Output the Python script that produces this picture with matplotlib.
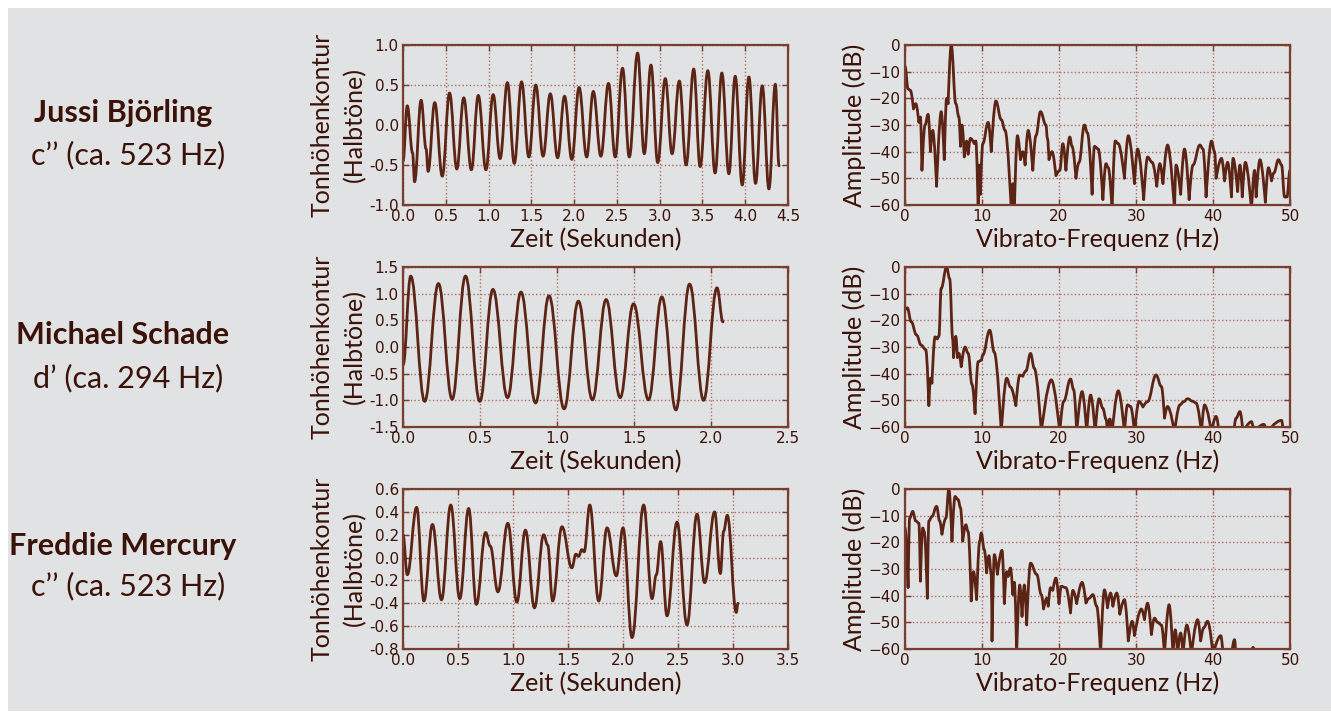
import matplotlib
matplotlib.use('Agg')
import matplotlib.pyplot as plt
from matplotlib.path import Path
from matplotlib.patches import PathPatch, Rectangle
from matplotlib.ticker import FormatStrFormatter

# colours
BG = '#e1e2e4'
LINE = '#5c2414'
SPINE = '#7a3e2e'
GRID = '#a8705f'
TEXT = '#3a1208'

# --- pitch contours: extrema (time in s, semitones) ---
bjoerling_t = [0.00, 0.050, 0.112, 0.135, 0.212, 0.270, 0.293, 0.371, 0.459, 0.544, 0.629, 0.710,
               0.799, 0.880, 0.969, 1.054, 1.135, 1.220, 1.301, 1.386, 1.471, 1.552, 1.637, 1.722,
               1.807, 1.888, 1.973, 2.058, 2.147, 2.224, 2.313, 2.402, 2.480, 2.566, 2.645, 2.742,
               2.820, 2.898, 2.977, 3.066, 3.145, 3.230, 3.309, 3.398, 3.473, 3.563, 3.648, 3.727,
               3.809, 3.883, 3.965, 4.043, 4.121, 4.199, 4.277, 4.352, 4.395]
bjoerling_v = [-0.45, 0.24, -0.35, -0.71, 0.31, -0.30, -0.58, 0.28, -0.64, 0.40, -0.55, 0.34,
               -0.56, 0.37, -0.56, 0.38, -0.42, 0.53, -0.48, 0.54, -0.40, 0.50, -0.39, 0.39,
               -0.41, 0.36, -0.43, 0.47, -0.40, 0.42, -0.39, 0.52, -0.40, 0.71, -0.40, 0.90,
               -0.36, 0.75, -0.47, 0.58, -0.36, 0.55, -0.50, 0.70, -0.52, 0.68, -0.60, 0.65,
               -0.61, 0.61, -0.75, 0.60, -0.73, 0.49, -0.80, 0.51, -0.51]

schade_t = [0.00, 0.050, 0.141, 0.230, 0.319, 0.406, 0.499, 0.584, 0.679, 0.766, 0.861, 0.948,
            1.046, 1.139, 1.230, 1.319, 1.410, 1.497, 1.594, 1.681, 1.772, 1.861, 1.952, 2.039, 2.078]
schade_v = [-0.34, 1.33, -1.02, 1.19, -0.98, 1.33, -1.02, 1.08, -0.95, 1.03, -1.05, 0.96,
            -1.16, 0.86, -0.99, 0.89, -0.95, 0.81, -0.99, 0.94, -1.18, 1.18, -1.00, 1.11, 0.47]

mercury_t = [0.00, 0.039, 0.124, 0.190, 0.268, 0.350, 0.434, 0.516, 0.597, 0.667, 0.751, 0.793,
             0.863, 0.953, 1.035, 1.113, 1.195, 1.279, 1.315, 1.360, 1.445, 1.535, 1.572, 1.596,
             1.626, 1.647, 1.698, 1.779, 1.855, 1.939, 2.000, 2.082, 2.188, 2.264, 2.303, 2.342,
             2.400, 2.491, 2.582, 2.673, 2.742, 2.833, 2.885, 2.915, 2.948, 3.030, 3.045]
mercury_v = [0.20, -0.15, 0.44, -0.38, 0.29, -0.37, 0.46, -0.36, 0.43, -0.41, 0.22, 0.10,
             -0.30, 0.30, -0.39, 0.24, -0.44, 0.20, 0.11, -0.38, 0.27, -0.09, 0.03, 0.01,
             0.07, 0.05, 0.46, -0.38, 0.26, -0.16, 0.26, -0.70, 0.46, -0.36, -0.15, 0.14,
             -0.51, 0.31, -0.59, 0.38, -0.22, 0.40, -0.14, 0.23, 0.37, -0.48, -0.40]

# --- vibrato spectra: extrema (Hz, dB) ---
bjoerling_f = [0.0, 0.4, 0.7, 1.1, 1.4, 1.8, 2.0, 2.2, 2.6, 3.0, 3.3, 3.6, 4.1, 4.7, 5.1, 5.4, 5.6,
               6.0, 6.6, 7.0, 7.2, 7.4, 7.7, 8.0, 8.2, 8.5, 9.0, 9.2, 9.5, 9.7, 9.8, 10.1, 10.8,
               11.2, 11.8, 12.5, 13.0, 13.8, 14.0, 14.2, 14.6, 15.0, 15.3, 15.6, 16.0, 16.6, 17.0,
               17.6, 18.3, 18.5, 18.7, 19.1, 19.6, 20.1, 20.5, 20.9, 21.4, 21.7, 22.2, 22.6, 23.3,
               23.7, 24.3, 24.6, 25.1, 25.7, 26.1, 26.4, 26.9, 27.3, 27.7, 28.5, 29.0, 29.8, 30.2,
               31.0, 31.5, 32.1, 32.7, 33.1, 33.5, 34.1, 35.0, 35.2, 35.8, 36.3, 36.9, 37.4, 38.3,
               38.7, 39.1, 39.8, 40.2, 40.4, 41.1, 41.5, 41.9, 42.4, 42.6, 43.2, 43.5, 43.8, 44.2,
               45.0, 45.4, 45.6, 46.1, 46.8, 47.2, 47.6, 47.9, 48.5, 48.9, 49.3, 49.6, 50.0]
bjoerling_db = [-8, -16.5, -17, -24, -22, -29, -27, -47, -30, -26, -40, -32, -53, -25, -43, -20, -22,
                0, -22, -27, -38, -30, -42, -36, -41, -35, -37, -36, -62, -45, -56, -37, -29,
                -40, -21, -28, -32, -62, -52, -62, -34, -43, -40, -45, -32, -47, -34,
                -25, -30, -35, -43, -40, -49, -47, -37, -47, -34.5, -38, -50, -44, -30,
                -33, -56, -38, -39, -58, -44.5, -46, -62, -36, -37, -50, -34, -52, -39,
                -58, -42, -44, -53, -44.5, -52, -37.5, -62, -45, -56, -39, -58, -45, -37.5,
                -39, -57, -36, -40, -50, -42.5, -51, -44, -57, -42.5, -55, -45, -57, -44,
                -62, -47, -57, -43, -59, -46, -51, -48, -43, -45, -57, -57, -47]

schade_f = [0.0, 0.3, 0.8, 1.5, 2.1, 2.7, 3.1, 3.3, 3.5, 3.9, 4.2, 4.4, 4.7, 5.4, 5.8, 6.2, 6.3,
            6.6, 6.8, 7.0, 7.3, 7.8, 8.2, 8.7, 9.1, 9.5, 9.9, 10.1, 11.0, 11.6, 12.5, 13.2, 13.7,
            14.4, 14.9, 15.3, 15.7, 16.3, 16.8, 17.7, 19.0, 20.1, 20.6, 21.5, 21.9, 22.3, 23.0,
            23.6, 24.1, 24.7, 25.2, 25.7, 26.1, 26.3, 26.6, 26.9, 27.7, 28.5, 28.9, 29.3, 29.8,
            30.4, 30.9, 31.5, 32.6, 33.3, 33.7, 34.1, 35.0, 35.7, 36.2, 36.7, 37.4, 37.8, 38.5,
            38.9, 39.8, 40.4, 40.9, 42.6, 43.0, 43.5, 43.9, 45.0, 45.3, 46.6, 47.0, 48.9, 49.2, 50.0]
schade_db = [-16, -15.3, -20.5, -25.5, -29.3, -31, -52, -41.7, -43.6, -26.2, -27, -26, -8, 0, -4.4, -27, -34,
             -26, -34, -32.4, -37.4, -30, -32.4, -44, -55, -35.5, -35, -33, -23.7, -32, -62, -41.7, -45,
             -52, -40.5, -41, -39, -32.4, -38, -62, -42.3, -62, -50.4, -42, -46, -62, -46.7,
             -62, -48, -62, -49.4, -53, -57, -62, -57, -62, -46.4, -62, -51.7, -52.3, -62,
             -50.4, -52.5, -50.5, -40.5, -44.8, -56.7, -52.3, -62, -51.7, -50.5, -49.4, -50.4, -51, -62,
             -51.7, -62, -56, -62, -62, -56.7, -54.2, -62, -58, -62, -59, -62, -57.5, -62, -62]

mercury_f = [0.0, 0.4, 0.6, 1.0, 1.4, 1.8, 2.0, 2.3, 2.5, 2.9, 3.1, 3.5, 4.1, 4.5, 4.8, 5.3, 5.7,
             6.1, 6.5, 6.9, 7.2, 7.5, 7.9, 8.2, 8.6, 8.9, 9.3, 9.7, 9.9, 10.3, 10.6, 10.9, 11.2,
             11.3, 11.6, 12.0, 12.6, 12.9, 13.2, 13.4, 13.7, 14.0, 14.2, 14.5, 14.9, 15.2, 15.5,
             15.8, 16.3, 17.1, 17.7, 18.0, 18.4, 18.6, 18.9, 19.2, 19.6, 20.0, 20.3, 20.9, 21.5,
             21.8, 22.3, 23.0, 23.5, 23.9, 24.4, 24.9, 25.4, 25.9, 26.3, 26.7, 27.0, 27.5, 27.9,
             28.5, 29.0, 29.5, 29.8, 30.7, 31.1, 31.5, 32.0, 32.4, 32.8, 33.3, 33.7, 34.3, 34.8,
             35.1, 35.4, 35.8, 36.1, 36.6, 37.2, 38.0, 38.4, 38.8, 39.3, 40.0, 41.0, 41.4, 42.3,
             42.8, 43.0, 44.9, 45.2, 45.5]
mercury_db = [-14.6, -37, -11, -8.4, -12, -12.8, -34.6, -14.6, -16, -41, -12, -10.3, -6.5, -12, -17, -11, 0,
              -19.6, -2.8, -4, -7, -19.6, -13.4, -16, -42, -31, -41.5, -19.6, -16.5, -22.8, -31.5, -25, -32,
              -57, -24.6, -32, -23, -43, -31, -32.8, -29.6, -39.6, -35, -62, -36, -47.8, -36,
              -51, -27.8, -32, -39.6, -45, -41, -44, -37, -38, -33.4, -43, -36.5, -37, -46.5,
              -38, -43, -35, -42.8, -41, -39.6, -44, -62, -37.8, -44.6, -39, -44, -39, -47,
              -41.5, -57, -49.6, -55, -45, -49, -42.8, -54.6, -48.4, -50, -51, -62, -43.4, -62,
              -52.8, -62, -54, -62, -51, -62, -49, -57, -52, -49.6, -62, -55, -62, -62,
              -56.5, -62, -62, -59.4, -62]

singers = ['Jussi Björling', 'Michael Schade', 'Freddie Mercury']
notes = ['c’’ (ca. 523 Hz)', 'd’ (ca. 294 Hz)', 'c’’ (ca. 523 Hz)']
contours = [(bjoerling_t, bjoerling_v), (schade_t, schade_v), (mercury_t, mercury_v)]
spectra = [(bjoerling_f, bjoerling_db), (schade_f, schade_db), (mercury_f, mercury_db)]
contour_xmax = [4.5, 2.5, 3.5]
contour_ylim = [(-1.0, 1.0), (-1.5, 1.5), (-0.8, 0.6)]
contour_ystep = [0.5, 0.5, 0.2]


def curve_path(xs, ys, sharp_dips=False, k=0.4):
    # smooth bezier through the extrema, horizontal tangents at each point
    n = len(xs)

    def dip(i):
        return sharp_dips and 0 < i < n - 1 and ys[i] < ys[i - 1] and ys[i] < ys[i + 1]

    verts = [(xs[0], ys[0])]
    codes = [Path.MOVETO]
    for i in range(n - 1):
        dx = xs[i + 1] - xs[i]
        c1 = (xs[i], ys[i]) if dip(i) else (xs[i] + k * dx, ys[i])
        c2 = (xs[i + 1], ys[i + 1]) if dip(i + 1) else (xs[i + 1] - k * dx, ys[i + 1])
        verts += [c1, c2, (xs[i + 1], ys[i + 1])]
        codes += [Path.CURVE4] * 3
    return Path(verts, codes)


def style_axes(ax):
    ax.set_facecolor('none')
    ax.grid(True, color=GRID, linestyle=':', linewidth=1.0)
    ax.set_axisbelow(True)
    for s in ax.spines.values():
        s.set_color(SPINE)
        s.set_linewidth(1.6)
    ax.tick_params(direction='in', length=4, width=1, color=SPINE, labelsize=11,
                   labelcolor=TEXT, pad=3, top=True, right=True)


W, H = 1331, 719
fig = plt.figure(figsize=(W / 100, H / 100), dpi=100, facecolor='white')
fig.patches.append(Rectangle((8 / W, 8 / H), 1 - 8 / W, 1 - 16 / H, transform=fig.transFigure,
                             facecolor=BG, edgecolor='none', zorder=-10))

tops = [45, 267, 489]
label_font = dict(family='Lato', fontsize=18, color=TEXT)

for row in range(3):
    top = tops[row]
    bottom = 1 - (top + 160) / H
    height = 160 / H

    # pitch contour
    ax = fig.add_axes([403 / W, bottom, 385 / W, height])
    style_axes(ax)
    t, v = contours[row]
    ax.add_patch(PathPatch(curve_path(t, v), facecolor='none', edgecolor=LINE, lw=2.0,
                           capstyle='round', joinstyle='round'))
    ax.set_xlim(0, contour_xmax[row])
    ax.set_ylim(*contour_ylim[row])
    ax.set_xticks([i * 0.5 for i in range(int(contour_xmax[row] / 0.5) + 1)])
    lo, hi = contour_ylim[row]
    st = contour_ystep[row]
    ax.set_yticks([lo + i * st for i in range(int(round((hi - lo) / st)) + 1)])
    ax.xaxis.set_major_formatter(FormatStrFormatter('%.1f'))
    ax.yaxis.set_major_formatter(FormatStrFormatter('%.1f'))
    ax.set_xlabel('Zeit (Sekunden)', labelpad=3, **label_font)
    ax.set_ylabel('Tonhöhenkontur\n(Halbtöne)', labelpad=2, linespacing=1.5, **label_font)

    # vibrato spectrum
    ax2 = fig.add_axes([905 / W, bottom, 385 / W, height])
    style_axes(ax2)
    f, db = spectra[row]
    ax2.add_patch(PathPatch(curve_path(f, db, sharp_dips=True), facecolor='none', edgecolor=LINE,
                            lw=2.0, capstyle='round', joinstyle='round'))
    ax2.set_xlim(0, 50)
    ax2.set_ylim(-60, 0)
    ax2.set_xticks(range(0, 51, 10))
    ax2.set_yticks(range(-60, 1, 10))
    ax2.set_xlabel('Vibrato-Frequenz (Hz)', labelpad=2, **label_font)
    ax2.set_ylabel('Amplitude (dB)', labelpad=2, **label_font)

# singer names on the left
name_y = [122, 344, 555]
note_y = [164, 387, 595]
for i in range(3):
    fig.text(123 / W, 1 - name_y[i] / H, singers[i], ha='center', va='baseline',
             family='Lato', fontweight='bold', fontsize=22, color=TEXT)
    fig.text(128 / W, 1 - note_y[i] / H, notes[i], ha='center', va='baseline',
             family='Lato', fontsize=22, color=TEXT)

fig.savefig('out.png', dpi=100, facecolor=fig.get_facecolor())
